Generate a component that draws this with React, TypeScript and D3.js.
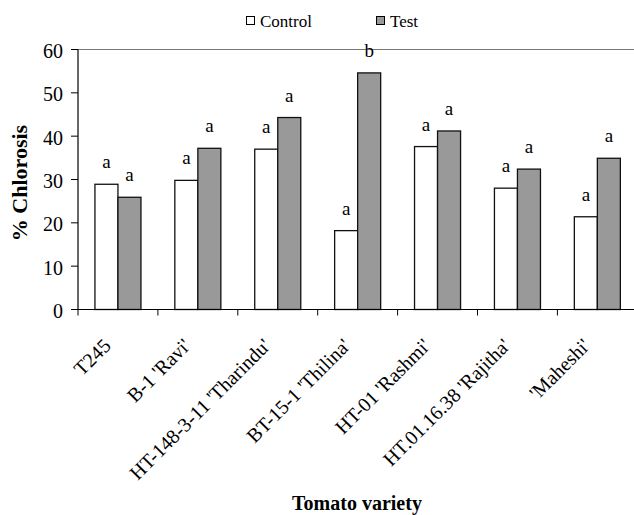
import React from "react";
import * as d3 from "d3";

const categories = ["T245", "B-1 'Ravi'", "HT-148-3-11 'Tharindu'", "BT-15-1 'Thilina'", "HT-01 'Rashmi'", "HT.01.16.38 'Rajitha'", "'Maheshi'"];
const seriesNames = ["Control", "Test"];
const controlValues = [28.9, 29.8, 37.0, 18.2, 37.6, 28.0, 21.4];
const testValues = [25.9, 37.2, 44.3, 54.6, 41.2, 32.4, 34.9];
const controlLetters = ["a", "a", "a", "a", "a", "a", "a"];
const testLetters = ["a", "a", "a", "b", "a", "a", "a"];
const yTicks = [0, 10, 20, 30, 40, 50, 60];

const W = 634;
const H = 515;
const left = 78;
const step = 79.9;
const right = left + step * categories.length;
const top = 49.5;
const bottom = 309.5;
const font = "'Liberation Serif', 'Times New Roman', serif";

export default function App() {
  const x = d3.scaleBand<string>().domain(categories).range([left, right]).paddingInner(0.424).paddingOuter(0.212);
  const xs = d3.scaleBand<string>().domain(seriesNames).range([0, x.bandwidth()]);
  const y = d3.scaleLinear().domain([0, 60]).range([bottom, top]);
  const series = [
    { name: "Control", values: controlValues, letters: controlLetters, fill: "#ffffff" },
    { name: "Test", values: testValues, letters: testLetters, fill: "#999999" },
  ];
  const boundaries = d3.range(categories.length + 1).map((i) => left + i * x.step());
  return (
    <svg width={W} height={H} style={{ position: "absolute", left: 0, top: 0, background: "#fff" }}>
      {/* legend */}
      <g fontFamily={font}>
        <rect x={246.5} y={16.5} width={8} height={8} fill="#fff" stroke="#000" />
        <text x={260} y={27} fontSize={17} fontFamily={font}>Control</text>
        <rect x={376.5} y={16.5} width={8} height={8} fill="#999999" stroke="#000" />
        <text x={390} y={27} fontSize={17} fontFamily={font}>Test</text>
      </g>
      {/* plot border */}
      <line x1={left} x2={right} y1={top} y2={top} stroke="#777" strokeWidth={1} />
      <line x1={right} x2={right} y1={top} y2={bottom} stroke="#777" strokeWidth={1} />
      {/* bars */}
      {series.map((s) =>
        categories.map((c, i) => {
          const bx = (x(c) as number) + (xs(s.name) as number);
          const by = y(s.values[i]);
          return (
            <g key={s.name + c}>
              <rect x={bx} y={by} width={xs.bandwidth()} height={bottom - by} fill={s.fill} stroke="#111" strokeWidth={1.3} />
              <text x={bx + xs.bandwidth() / 2} y={by - 16} fontSize={19} fontFamily={font} textAnchor="middle">{s.letters[i]}</text>
            </g>
          );
        })
      )}
      {/* y axis */}
      <line x1={left} x2={left} y1={top} y2={bottom} stroke="#000" strokeWidth={1.2} />
      {yTicks.map((t) => (
        <g key={t}>
          <line x1={left - 7} x2={left} y1={y(t)} y2={y(t)} stroke="#000" />
          <text x={63} y={y(t)} dy="0.42em" fontSize={20} fontFamily={font} textAnchor="end">{t}</text>
        </g>
      ))}
      {/* x axis */}
      <line x1={left} x2={right} y1={bottom} y2={bottom} stroke="#000" strokeWidth={1.2} />
      {boundaries.map((b, i) => (
        <line key={i} x1={b} x2={b} y1={bottom} y2={bottom + 6} stroke="#000" />
      ))}
      {categories.map((c) => {
        const cx = (x(c) as number) + x.bandwidth() / 2;
        return (
          <text key={c} transform={`translate(${cx - 6},${347}) rotate(-45)`} fontSize={20} fontFamily={font} textAnchor="end">{c}</text>
        );
      })}
      {/* axis titles */}
      <text transform={`translate(27,${183}) rotate(-90)`} fontSize={22} fontFamily={font} fontWeight="bold" textAnchor="middle">% Chlorosis</text>
      <text x={357} y={510} fontSize={20} fontFamily={font} fontWeight="bold" textAnchor="middle">Tomato variety</text>
    </svg>
  );
}
